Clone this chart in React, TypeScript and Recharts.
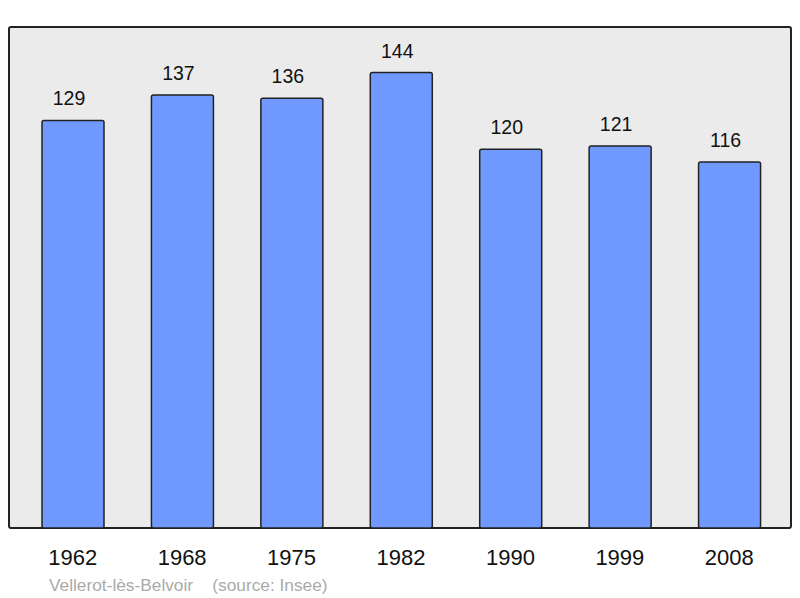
import React from "react";
import { BarChart, Bar, XAxis, YAxis, LabelList } from "recharts";

const years = ["1962", "1968", "1975", "1982", "1990", "1999", "2008"];
const population = [129, 137, 136, 144, 120, 121, 116];
const footerPlace = "Vellerot-lès-Belvoir";
const footerSource = "(source: Insee)";

const data = years.map((y, i) => ({ year: y, pop: population[i] }));

const FONT = '"Liberation Sans", Arial, sans-serif';

export default function App() {
  return (
    <div style={{ position: "absolute", left: 0, top: 0, width: 800, height: 598, background: "#fff", fontFamily: FONT }}>
      <div
        style={{
          position: "absolute",
          left: 8,
          top: 26,
          width: 780,
          height: 499,
          background: "#ebebeb",
          border: "2px solid #222",
          borderRadius: 3,
        }}
      />
      <div style={{ position: "absolute", left: 0, top: 0 }}>
        <BarChart
          width={800}
          height={598}
          data={data}
          margin={{ top: 27, right: 9, bottom: 40, left: 9 }}
        >
          <XAxis
            dataKey="year"
            height={30}
            padding={{ left: 9, right: 7 }}
            axisLine={false}
            tickLine={false}
            tickSize={0}
            tickMargin={21}
            interval={0}
            tick={{ fontSize: 22, fill: "#111", fontFamily: FONT }}
          />
          <YAxis hide domain={[1.25, 158.3]} allowDataOverflow type="number" />
          <Bar
            dataKey="pop"
            fill="#7099ff"
            stroke="#222"
            strokeWidth={1.5}
            barSize={62}
            radius={2}
            isAnimationActive={false}
          >
            <LabelList
              dataKey="pop"
              position="top"
              offset={15}
              dx={-4}
              style={{ fontSize: 19.5, fill: "#111", fontFamily: FONT }}
            />
          </Bar>
        </BarChart>
      </div>
      <div
        style={{
          position: "absolute",
          left: 49,
          top: 575,
          fontSize: 17.3,
          color: "#aaaaaa",
          fontFamily: FONT,
          whiteSpace: "pre",
        }}
      >
        {footerPlace + "    " + footerSource}
      </div>
    </div>
  );
}
